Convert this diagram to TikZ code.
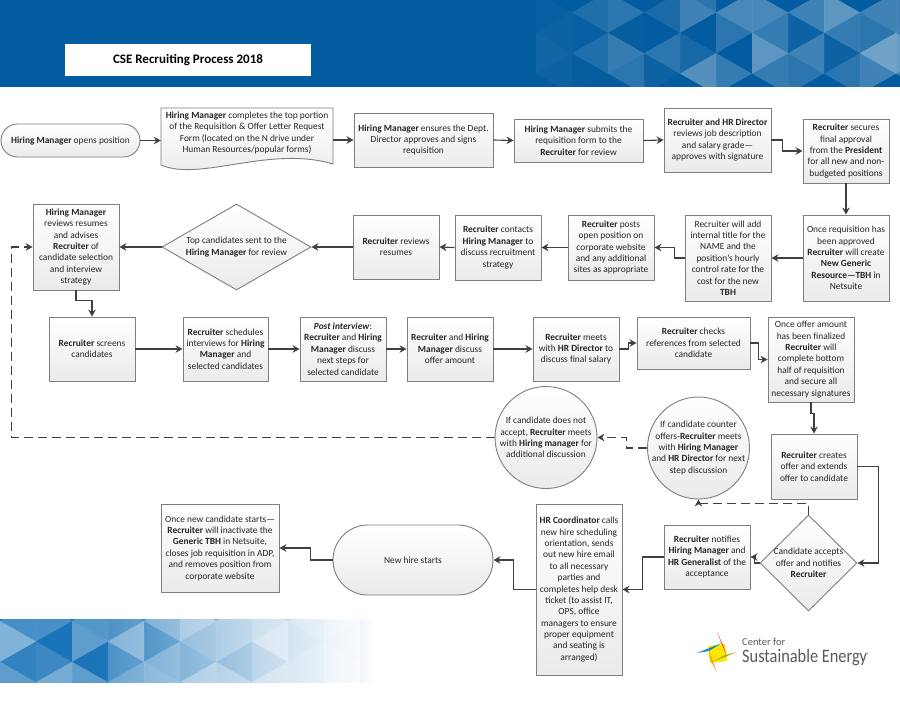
\documentclass[tikz,border=0pt]{standalone}
\usepackage{fontspec}
\setmainfont{Carlito}
\usetikzlibrary{arrows.meta,shapes.geometric,shapes.misc,fadings}
\definecolor{banner}{HTML}{035C9F}
\definecolor{band}{HTML}{1A74B8}
\definecolor{edge}{HTML}{7F7F7F}
\definecolor{link}{HTML}{404040}
\definecolor{ink}{HTML}{262626}
\definecolor{logotext}{HTML}{5A5A5A}
\tikzset{
  >={Stealth[length=7pt,width=7.5pt]},
  base/.style={draw=edge,line width=0.9pt,top color=white,bottom color=black!8,text=ink,align=center,inner sep=0pt,font=\fontsize{9.4}{11.4}\selectfont},
  box/.style={base,rectangle},
  term/.style={base,rounded rectangle},
  deci/.style={base,diamond,inner sep=-5pt},
  ball/.style={base,circle,minimum size=102pt,inner sep=-8pt},
  conn/.style={->,draw=link,line width=1.1pt},
  dconn/.style={conn,dash pattern=on 9pt off 5pt},
}
\newcommand{\tribands}[4]{%
  \foreach \c/\vals in {#4} {
    \pgfmathsetmacro{\xa}{#1+36*\c}
    \foreach \o [count=\j from -1] in \vals {
      \pgfmathsetmacro{\xp}{\xa+36*mod(\j+\c+2,2)}
      \pgfmathsetmacro{\xq}{\xa+36*mod(\j+\c+3,2)}
      \pgfmathsetmacro{\oo}{\o*#3}
      \fill[white,opacity=\oo] (\xp,#2+20.4*\j) -- (\xq,#2+20.4*\j+20.4) -- (\xp,#2+20.4*\j+40.8) -- cycle;
    }
  }
}
\begin{document}
\begin{tikzpicture}[x=1pt,y=-1pt]
  \useasboundingbox (0,0) rectangle (900,702);
  \fill[white] (0,0) rectangle (900,702);
  \fill[banner] (0,0) rectangle (900,87);
  \begin{scope}
    \clip (0,0) rectangle (900,87);
    \tribands{536}{-8}{.8}{0/{0,.03,.05,.08,.05,0},1/{0,.15,.03,.15,.02,0},2/{0,.2,.02,.25,.2,0},3/{0,.12,0,.2,.05,0},4/{.2,.3,0,.1,.4,0},5/{0,.35,.2,0,.25,0},6/{0,.35,.25,.45,.25,0},7/{0,.3,.05,.3,.2,0},8/{0,.45,.25,.05,.2,0},9/{0,.3,.2,.55,.3,0},10/{0,.3,.3,.5,.3,0}}
  \end{scope}
  \node[fill=white,minimum width=246pt,minimum height=32pt,inner sep=0pt,font=\fontsize{13}{14}\selectfont\bfseries] (title) at (188,60) {CSE Recruiting Process 2018};

  \fill[band] (0,619) rectangle (385,683);
  \begin{scope}
    \clip (0,619) rectangle (385,683);
    \tribands{0}{621}{1}{0/{.2,.45,.1,.3},1/{.2,0,.15,.4},2/{.25,.3,0,.3},3/{.2,.45,.2,.35},4/{.35,.1,.35,.4},5/{.5,.35,.25,.5},6/{.4,.4,.2,.45},7/{.5,.6,.35,.55},8/{.5,.4,.5,.5},9/{.6,.5,.6,.6}}
  \end{scope}
  \fill[white,path fading=west] (100,618) rectangle (375,684);
  \fill[white] (374.5,618) rectangle (386,684);

  \node[term,minimum width=139pt,minimum height=33pt] (open) at (70.5,140.5) {\textbf{Hiring Manager} opens position};
  \path[base] (161,108) -- (333,108) -- (333,164) .. controls (270,145) and (200,182) .. (161,165) -- cycle;
  \node[align=center,text=ink,inner sep=0pt,minimum width=172pt,minimum height=64pt,font=\fontsize{9.4}{11.4}\selectfont] (form) at (247,133) {\textbf{Hiring Manager} completes the top portion\\of the Requisition \& Offer Letter Request\\Form (located on the N drive under\\Human Resources/popular forms)};
  \node[box,minimum width=139pt,minimum height=54pt] (dept) at (423.5,140) {\textbf{Hiring Manager} ensures the Dept.\\Director approves and signs\\requisition};
  \node[box,minimum width=129pt,minimum height=43pt] (submit) at (578.5,140.5) {\textbf{Hiring Manager} submits the\\requisition form to the\\\textbf{Recruiter} for review};
  \node[box,minimum width=107pt,minimum height=64pt] (review) at (717.5,140) {\textbf{Recruiter and HR Director}\\reviews job description\\and salary grade---\\approves with signature};
  \node[box,minimum width=86pt,minimum height=64pt] (secure) at (846,151) {\textbf{Recruiter} secures\\final approval\\from the \textbf{President}\\for all new and non-\\budgeted positions};
  \node[box,minimum width=86pt,minimum height=86pt] (generic) at (846,258) {Once requisition has\\been approved\\\textbf{Recruiter} will create\\\textbf{New Generic}\\\textbf{Resource---TBH} in\\Netsuite};
  \node[box,minimum width=86pt,minimum height=86pt] (internal) at (728,258) {Recruiter will add\\internal title for the\\NAME and the\\position's hourly\\control rate for the\\cost for the new\\\textbf{TBH}};
  \node[box,minimum width=86pt,minimum height=65pt] (posts) at (611,247.5) {\textbf{Recruiter} posts\\open position on\\corporate website\\and any additional\\sites as appropriate};
  \node[box,minimum width=86pt,minimum height=65pt] (contacts) at (498,247.5) {\textbf{Recruiter} contacts\\\textbf{Hiring Manager} to\\discuss recruitment\\strategy};
  \node[box,minimum width=86pt,minimum height=64pt] (resumes) at (396,247) {\textbf{Recruiter} reviews\\resumes};
  \node[deci,minimum width=149pt,minimum height=86pt,shape aspect=1.73] (top) at (236.5,247) {Top candidates sent to the\\\textbf{Hiring Manager} for review};
  \node[box,minimum width=86pt,minimum height=86pt] (advise) at (76,247) {\textbf{Hiring Manager}\\reviews resumes\\and advises\\\textbf{Recruiter} of\\candidate selection\\and interview\\strategy};
  \node[box,minimum width=86pt,minimum height=64pt] (screens) at (92,349) {\textbf{Recruiter} screens\\candidates};
  \node[box,minimum width=85pt,minimum height=64pt] (schedule) at (225.5,349) {\textbf{Recruiter} schedules\\interviews for \textbf{Hiring}\\\textbf{Manager} and\\selected candidates};
  \node[box,minimum width=86pt,minimum height=64pt] (postint) at (343,349) {\textbf{\textit{Post interview}}:\\\textbf{Recruiter} and \textbf{Hiring}\\\textbf{Manager} discuss\\next steps for\\selected candidate};
  \node[box,minimum width=86pt,minimum height=64pt] (amount) at (450,349) {\textbf{Recruiter} and \textbf{Hiring}\\\textbf{Manager} discuss\\offer amount};
  \node[box,minimum width=86pt,minimum height=64pt] (salary) at (576,349) {\textbf{Recruiter} meets\\with \textbf{HR Director} to\\discuss final salary};
  \node[box,minimum width=113pt,minimum height=52pt] (refs) at (693.5,343) {\textbf{Recruiter} checks\\references from selected\\candidate};
  \node[box,minimum width=86pt,minimum height=85pt] (finalize) at (811,359.5) {Once offer amount\\has been finalized\\\textbf{Recruiter} will\\complete bottom\\half of requisition\\and secure all\\necessary signatures};
  \node[ball] (noaccept) at (546,437.5) {If candidate does not\\accept, \textbf{Recruiter} meets\\with \textbf{Hiring manager} for\\additional discussion};
  \node[ball] (counter) at (698.5,448) {If candidate counter\\offers-\textbf{Recruiter} meets\\with \textbf{Hiring Manager}\\and \textbf{HR Director} for next\\step discussion};
  \node[box,minimum width=86pt,minimum height=65pt] (creates) at (814,466.5) {\textbf{Recruiter} creates\\offer and extends\\offer to candidate};
  \node[deci,minimum width=97pt,minimum height=96pt] (accepts) at (808.5,563) {Candidate accepts\\offer and notifies\\\textbf{Recruiter}};
  \node[box,minimum width=86pt,minimum height=64pt] (notifies) at (707,557) {\textbf{Recruiter} notifies\\\textbf{Hiring Manager} and\\\textbf{HR Generalist} of the\\acceptance};
  \node[box,minimum width=86pt,minimum height=171pt] (coord) at (579,589.5) {\textbf{HR Coordinator} calls\\new hire scheduling\\orientation, sends\\out new hire email\\to all necessary\\parties and\\completes help desk\\ticket (to assist IT,\\OPS, office\\managers to ensure\\proper equipment\\and seating is\\arranged)};
  \node[term,minimum width=160pt,minimum height=70pt] (starts) at (413,560) {New hire starts};
  \node[box,minimum width=118pt,minimum height=88pt] (inactive) at (220,548) {Once new candidate starts---\\\textbf{Recruiter} will inactivate the\\\textbf{Generic TBH} in Netsuite,\\closes job requisition in ADP,\\and removes position from\\corporate website};

  \draw[conn] (open.east) -- (form.west |- open.east);
  \draw[conn] (form.east |- dept.west) -- (dept.west);
  \draw[conn] (dept.east) -- (submit.west);
  \draw[conn] (submit.east) -- (review.west);
  \draw[conn] (review.east) -- ++(11,0) |- (secure.west);
  \draw[conn] (secure.south) -- (generic.north);
  \draw[conn] (generic.west) -- (internal.east);
  \draw[conn] (internal.west) -- ++(-10,0) |- (posts.east);
  \draw[conn] (posts.west) -- (contacts.east);
  \draw[conn] (contacts.west) -- (resumes.east);
  \draw[conn] (resumes.west) -- (top.east);
  \draw[conn] (top.west) -- (advise.east);
  \draw[conn] (advise.south) -- ++(0,10) -| (screens.north);
  \draw[conn] (screens.east) -- (schedule.west);
  \draw[conn] (schedule.east) -- (postint.west);
  \draw[conn] (postint.east) -- (amount.west);
  \draw[conn] (amount.east) -- (salary.west);
  \draw[conn] (salary.east) -- ++(9,0) |- (refs.west);
  \draw[conn] (refs.east) -- ++(8,0) |- (finalize.west);
  \draw[conn] (finalize.south) -- ++(0,11) -| (creates.north);
  \draw[conn] (creates.east) -- ++(21,0) |- (accepts.east);
  \draw[conn] (accepts.west) -- ++(-5,0) |- (notifies.east);
  \draw[conn] (notifies.west) -- ++(-21,0) |- (coord.east);
  \draw[conn] (coord.west) -- ++(-22,0) |- (starts.east);
  \draw[conn] (starts.west) -- ++(-22,0) |- (inactive.east);
  \draw[dconn] (accepts.north) -- ++(0,-11) -| (counter.south);
  \draw[dconn] (counter.west) -- ++(-21,0) |- (noaccept.east);
  \draw[dconn] (noaccept.west) -- ++(-483,0) |- (advise.west);

  \fill[yellow!90!orange] (708,646) -- (725,644) -- (727,661) -- (710,663) -- cycle;
  \fill[cyan!70!blue] (697,653) -- (722,643) -- (709,651) -- cycle;
  \fill[red!70!orange] (717,632) -- (727,657) -- (723,645) -- cycle;
  \fill[olive!70!yellow] (737,652) -- (712,662) -- (725,655) -- cycle;
  \fill[orange!80!yellow] (717,673) -- (708,648) -- (711,661) -- cycle;
  \node[text=logotext,anchor=base west,inner sep=0pt,font=\fontsize{10.5}{11}\selectfont] (logoa) at (742,645.5) {Center for};
  \node[text=logotext,anchor=base west,inner sep=0pt,xscale=.86,transform shape,font=\fontsize{19}{20}\selectfont] (logob) at (742,662.5) {Sustainable Energy\textsuperscript{\tiny ®}};
\end{tikzpicture}
\end{document}
